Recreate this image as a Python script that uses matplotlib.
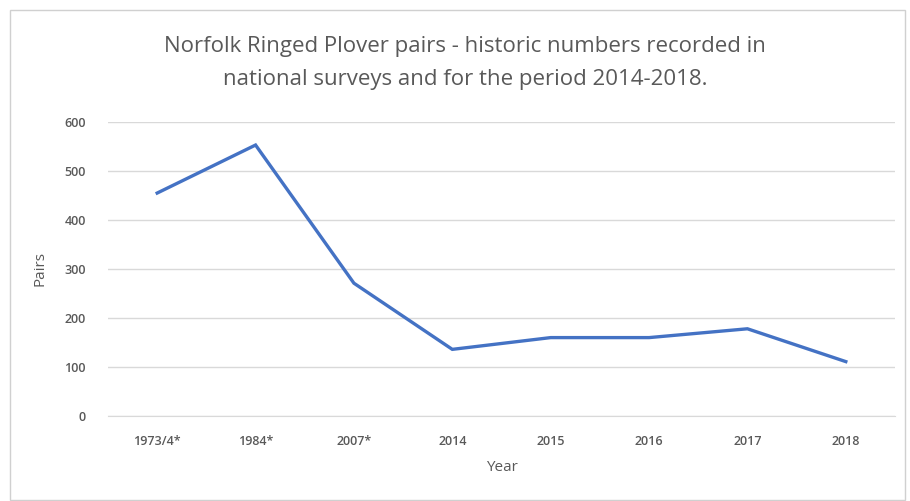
import matplotlib
matplotlib.use("Agg")
import matplotlib.pyplot as plt
from matplotlib.patches import Rectangle

categories = ["1973/4*", "1984*", "2007*", "2014", "2015", "2016", "2017", "2018"]
pairs = [455, 553, 271, 136, 160, 160, 178, 111]
yticks = [0, 100, 200, 300, 400, 500, 600]
title = "Norfolk Ringed Plover pairs - historic numbers recorded in\nnational surveys and for the period 2014-2018."

W, H = 910, 501
fig = plt.figure(figsize=(W / 100, H / 100), dpi=100)
fig.patch.set_facecolor("white")

# outer chart border
fig.patches.append(Rectangle((10 / W, 1 / H), 895 / W, 490 / H, transform=fig.transFigure,
                             fill=False, edgecolor="#d0d0d0", linewidth=1))

ax = fig.add_axes([108 / W, 1 - 416 / H, (895 - 108) / W, (416 - 122) / H])
x = list(range(len(categories)))
ax.plot(x, pairs, color="#4472C4", linewidth=2.4, solid_joinstyle="miter")
ax.set_xlim(-0.5, len(categories) - 0.5)
ax.set_ylim(0, 600)
ax.set_yticks(yticks)
ax.set_xticks(x)
ax.set_xticklabels(categories)
ax.grid(axis="y", color="#d9d9d9", linewidth=1)
ax.set_axisbelow(True)
for s in ["top", "right", "left"]:
    ax.spines[s].set_visible(False)
ax.spines["bottom"].set_color("#d9d9d9")
ax.tick_params(axis="both", length=0, colors="#595959", labelsize=9)
ax.tick_params(axis="y", pad=16)
ax.tick_params(axis="x", pad=14)

fam = ["Open Sans", "DejaVu Sans"]
for lab in ax.get_xticklabels() + ax.get_yticklabels():
    lab.set_family(fam)
    lab.set_fontweight("semibold")

ax.set_ylabel("Pairs", color="#595959", fontsize=11, family=fam, labelpad=12)
ax.set_xlabel("Year", color="#595959", fontsize=11, family=fam, labelpad=8)

fig.text(465 / W, 1 - 63 / H, title, ha="center", va="center", fontsize=16,
         color="#595959", family=fam, linespacing=1.75)

fig.savefig("out.png", dpi=100)
